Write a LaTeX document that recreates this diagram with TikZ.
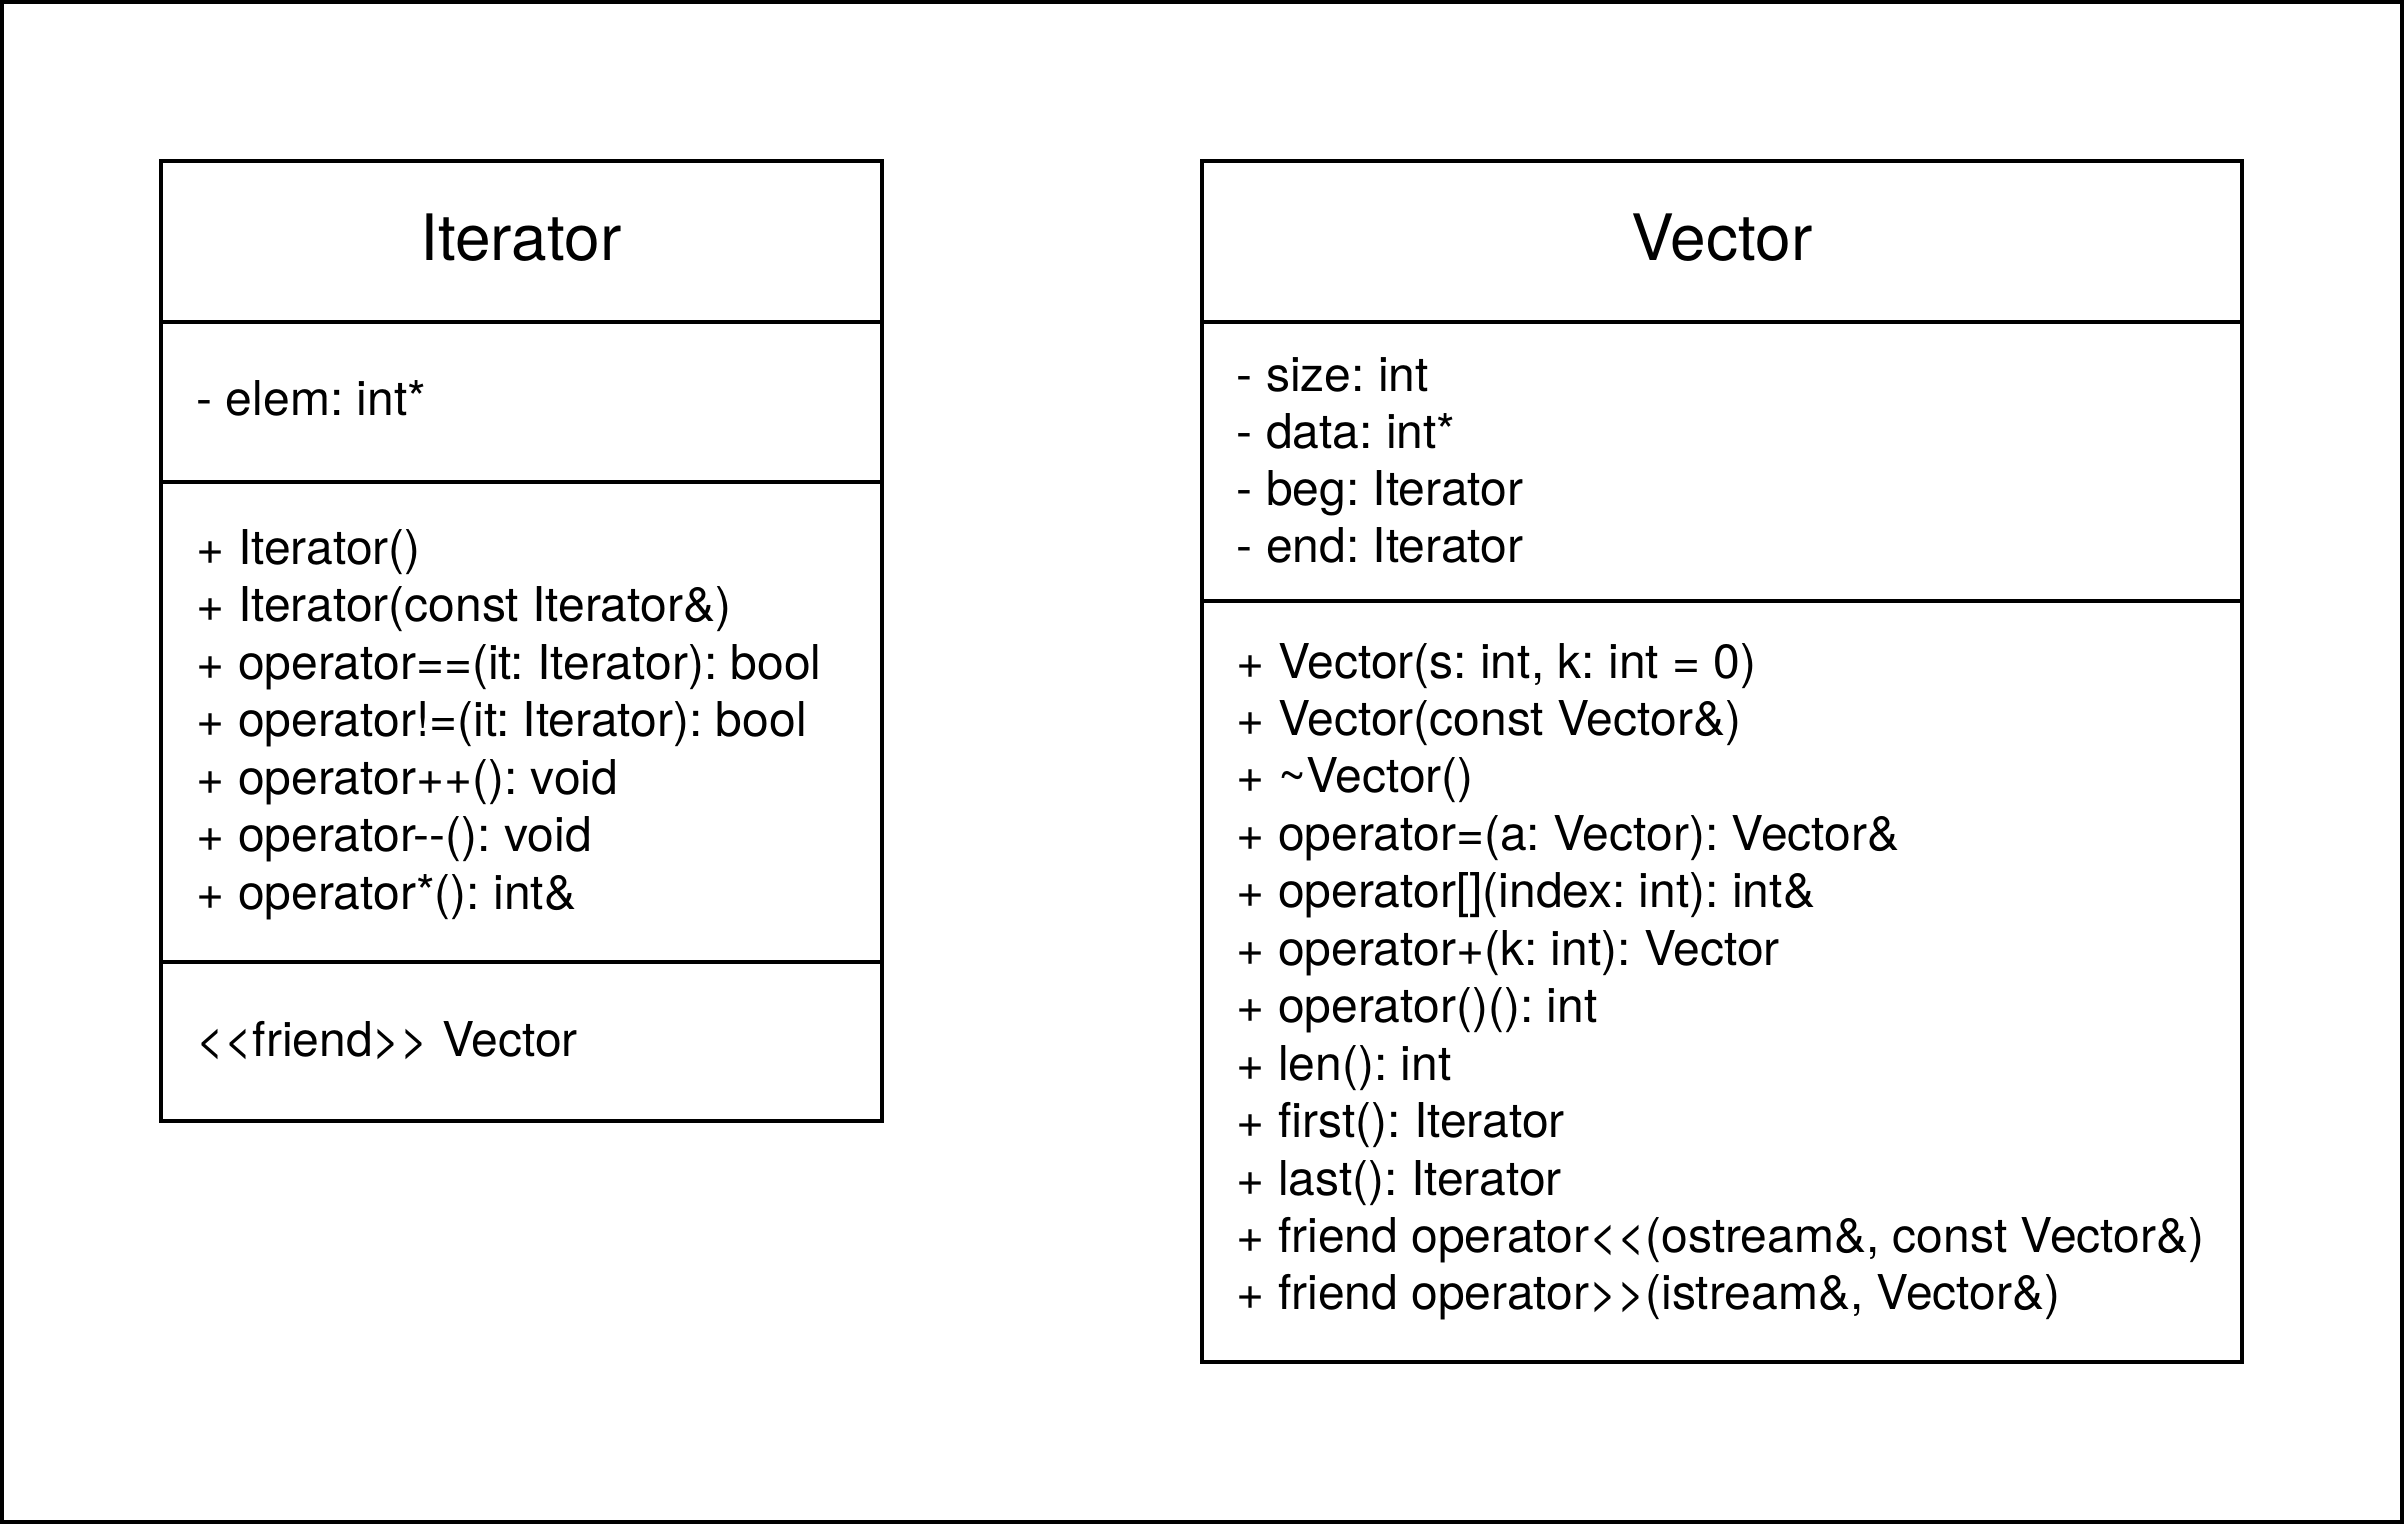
\documentclass[tikz,border=0pt]{standalone}
\usepackage{fontspec}
\newfontfamily\umlfont{TeX Gyre Heros}
\frenchspacing
\begin{document}
\begin{tikzpicture}[x=0.3pt,y=-0.3pt,
  frame/.style={line width=1.25pt},
  boxline/.style={line width=1.2pt},
  member/.style={anchor=base west, inner sep=0pt, font=\umlfont\fontsize{14.4}{17}\selectfont},
  classtitle/.style={anchor=base, inner sep=0pt, font=\umlfont\fontsize{19.2}{23}\selectfont}]
\useasboundingbox (0,0) rectangle (2404,1524);
\draw[frame] (2,2) rectangle (2402,1522);

% ---- Iterator ----
\draw[boxline] (161,161) rectangle (881.5,1121);
\draw[boxline] (161,322) -- (881.5,322);
\draw[boxline] (161,481.5) -- (881.5,481.5);
\draw[boxline] (161,961.5) -- (881.5,961.5);
\node[classtitle] (itname) at (521,260) {Iterator};
\node[member] (itattr) at (196,415) {- elem: int*};
\foreach \t [count=\i from 0] in {%
  {+ Iterator()},
  {+ Iterator(const Iterator\&)},
  {+ operator==(it: Iterator): bool},
  {+ operator!=(it: Iterator): bool},
  {+ operator++(): void},
  {+ operator-\kern0pt-(): void},
  {+ operator*(): int\&}}
  \node[member] (itm\i) at (196,564+57.5*\i) {\t};
\node[member] (itfriend) at (196,1056) {<\kern0pt<friend>\kern0pt> Vector};

% ---- Vector ----
\draw[boxline] (1202,161) rectangle (2241.5,1361.5);
\draw[boxline] (1202,322) -- (2241.5,322);
\draw[boxline] (1202,601) -- (2241.5,601);
\node[classtitle] (vecname) at (1722,260) {Vector};
\foreach \t [count=\i from 0] in {%
  {- size: int},
  {- data: int*},
  {- beg: Iterator},
  {- end: Iterator}}
  \node[member] (va\i) at (1236,391+57.3*\i) {\t};
\foreach \t [count=\i from 0] in {%
  {+ Vector(s: int, k: int = 0)},
  {+ Vector(const Vector\&)},
  {+ \textasciitilde Vector()},
  {+ operator=(a: Vector): Vector\&},
  {+ operator[](index: int): int\&},
  {+ operator+(k: int): Vector},
  {+ operator()(): int},
  {+ len(): int},
  {+ first(): Iterator},
  {+ last(): Iterator},
  {+ friend operator<\kern0pt<(ostream\&, const Vector\&)},
  {+ friend operator>\kern0pt>(istream\&, Vector\&)}}
  \node[member] (vm\i) at (1236,678+57.45*\i) {\t};
\end{tikzpicture}
\end{document}
